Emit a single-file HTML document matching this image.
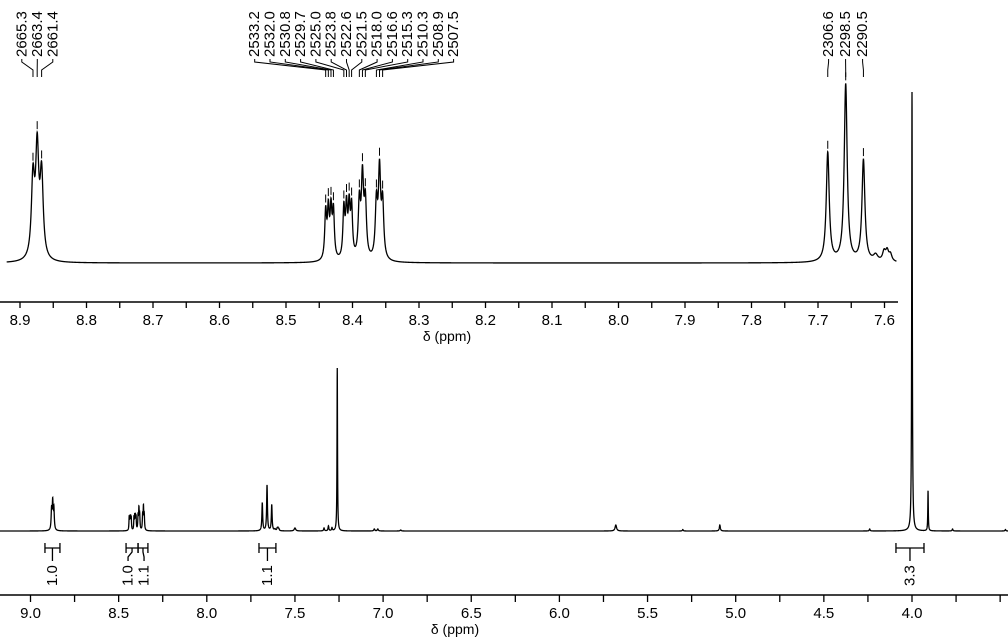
<!DOCTYPE html>
<html><head><meta charset="utf-8">
<style>
html,body{margin:0;padding:0;background:#fff;}
svg{display:block;font-family:"Liberation Sans",Arial,sans-serif;}
</style></head>
<body>
<svg id="chart" width="1008" height="638" viewBox="0 0 1008 638" xmlns="http://www.w3.org/2000/svg">
<g id="main"></g>
<g id="inset"></g>
</svg>
<script>
// ---- data ----
const MHZ = 300.13;
// aromatic peaks (Hz), heights in main-plot pixel units, half-widths (Hz)
const peakHz = [2665.3,2663.4,2661.4, 2533.2,2532.0,2530.8,2529.7, 2525.0,2523.8,2522.6,2521.5, 2518.0,2516.6,2515.3, 2510.3,2508.9,2507.5, 2306.6,2298.5,2290.5, 2285.0,2281.2,2279.8,2278.3];
const peakH  = [20,27,21, 12,12,12,12, 12.5,12.5,12.5,12.5, 14,20,14, 14,22,14, 28,45.5,26, 1.6,2.4,2.6,1.8];
const peakW  = [0.85,0.85,0.85, 0.5,0.5,0.5,0.5, 0.5,0.5,0.5,0.5, 0.6,0.6,0.6, 0.6,0.6,0.6, 0.8,0.8,0.8, 1.2,0.8,0.8,0.8];
// other peaks (ppm) in main plot
const otherPpm = [7.50,7.335,7.31,7.29,7.26,7.05,7.03,6.90,5.68,5.30,5.09,4.24,4.00,3.909,3.77,3.47];
const otherH   = [3,3,5,3,163,2,2,1,6,1.5,6,2,439,40,2,1.5];
const otherW   = [1.5,0.8,0.8,0.8,0.5,1.0,1.0,1.0,1.5,0.8,1.0,0.8,0.6,0.5,0.8,0.8];
// peak labels
const labelGroups = [
  ['2665.3','2663.4','2661.4'],
  ['2533.2','2532.0','2530.8','2529.7','2525.0','2523.8','2522.6','2521.5','2518.0','2516.6','2515.3','2510.3','2508.9','2507.5'],
  ['2306.6','2298.5','2290.5']
];
// integrals: [from ppm, to ppm, value]
const integFrom = [8.918,8.458,8.390,7.704,4.091];
const integTo   = [8.833,8.390,8.334,7.608,3.932];
const integVal  = ['1.0','1.0','1.1','1.1','3.3'];
const mainTicks = [9.0,8.5,8.0,7.5,7.0,6.5,6.0,5.5,5.0,4.5,4.0];
const insetTicks = [8.9,8.8,8.7,8.6,8.5,8.4,8.3,8.2,8.1,8.0,7.9,7.8,7.7,7.6];

// ---- axes ----
const NS='http://www.w3.org/2000/svg';
const xMain = d => 912 - (d-4.0)*176.3;
const xIns  = d => 884.5 - (d-7.6)*665;
const MAIN_BASE=531, INS_BASE=263, INS_SCALE=3.9;
function el(tag, attrs, parent){const e=document.createElementNS(NS,tag);for(const k in attrs)e.setAttribute(k,attrs[k]);parent.appendChild(e);return e;}

const allPpm=[], allH=[], allW=[];
peakHz.forEach((f,i)=>{allPpm.push(f/MHZ);allH.push(peakH[i]);allW.push(peakW[i]/MHZ);});
otherPpm.forEach((p,i)=>{allPpm.push(p);allH.push(otherH[i]);allW.push(otherW[i]/MHZ);});
function I(d){let s=0;for(let i=0;i<allPpm.length;i++){const u=(d-allPpm[i])/allW[i];s+=allH[i]/(1+u*u);}return s;}

const mainG=document.getElementById('main'), insG=document.getElementById('inset');

// main spectrum
let p='';
for(let d=9.19; d>=3.44; d-=0.0004){const x=xMain(d), y=MAIN_BASE-I(d);p+=(p?'L':'M')+x.toFixed(2)+','+y.toFixed(2);}
let path=el('path',{d:p,fill:'none',stroke:'#000','stroke-width':1.3},mainG);



// inset spectrum
p='';
for(let d=8.92; d>=7.582; d-=0.0002){const x=xIns(d), y=INS_BASE-I(d)*INS_SCALE;p+=(p?'L':'M')+x.toFixed(2)+','+y.toFixed(2);}
path=el('path',{d:p,fill:'none',stroke:'#000','stroke-width':1.3},insG);



// main axis
let ax=el('line',{x1:0,x2:1008,y1:595,y2:595,stroke:'#000','stroke-width':1.5},mainG);


for(let d=9.25; d>=3.4; d-=0.25){const x=xMain(d); if(x<0||x>1008)continue;
  const t=el('line',{x1:x,x2:x,y1:595,y2:602,stroke:'#000','stroke-width':1.3},mainG);
  
  }
mainTicks.forEach(d=>{const t=el('text',{x:xMain(d),y:618,'font-size':15,'text-anchor':'middle'},mainG);t.textContent=d.toFixed(1);
  
  });
let tt=el('text',{x:455,y:634,'font-size':14,'text-anchor':'middle'},mainG);tt.textContent='δ (ppm)';



// inset axis
ax=el('line',{x1:0,x2:898,y1:302,y2:302,stroke:'#000','stroke-width':1.5},insG);


for(let k=0;k<=28;k++){const d=8.95-k*0.05;const x=xIns(d); if(x<0||x>898)continue;
  const t=el('line',{x1:x,x2:x,y1:302,y2:308,stroke:'#000','stroke-width':1.3},insG);
  
  }
insetTicks.forEach(d=>{const t=el('text',{x:xIns(d),y:325,'font-size':15,'text-anchor':'middle'},insG);t.textContent=d.toFixed(1);
  
  });
tt=el('text',{x:447,y:341,'font-size':14,'text-anchor':'middle'},insG);tt.textContent='δ (ppm)';



// peak labels
labelGroups.forEach((grp,gi)=>{
  const xs=grp.map(s=>xIns(parseFloat(s)/MHZ));
  const sp= gi===0?15.5:(gi===1?15.3:17);
  const c=(Math.min(...xs)+Math.max(...xs))/2;
  grp.forEach((s,i)=>{
    const xl=c+(i-(grp.length-1)/2)*sp, xp=xs[i];
    const t=el('text',{transform:`translate(${xl},57) rotate(-90)`,'font-size':15,'dominant-baseline':'central'},insG);
    t.textContent=s;
    
    
    const l=el('path',{d:`M${xl},59L${xl},62L${xp},70L${xp},77`,fill:'none',stroke:'#000','stroke-width':1},insG);
    
    
    const top=INS_BASE-I(parseFloat(s)/MHZ)*INS_SCALE;
    const m=el('line',{x1:xp,x2:xp,y1:top-3,y2:top-11,stroke:'#000','stroke-width':1},insG);
    
    
  });
});

// integrals
let prevLx=-100;
integVal.forEach((v,i)=>{
  const x1=xMain(integFrom[i]), x2=xMain(integTo[i]), cx=(x1+x2)/2;
  let lx=cx; if(lx-prevLx<16) lx=prevLx+16;
  if(i===1) lx=cx-4;
  prevLx=lx;
  const g=el('path',{d:`M${x1},543L${x1},553M${x1},548L${x2},548M${x2},543L${x2},553M${cx},548L${cx},552L${lx},557L${lx},561`,fill:'none',stroke:'#000','stroke-width':1.3},mainG);
  
  
  const t=el('text',{transform:`translate(${lx},586) rotate(-90)`,'font-size':15,'dominant-baseline':'central'},mainG);
  t.textContent=v;
  
  
});
</script>
</body></html>
